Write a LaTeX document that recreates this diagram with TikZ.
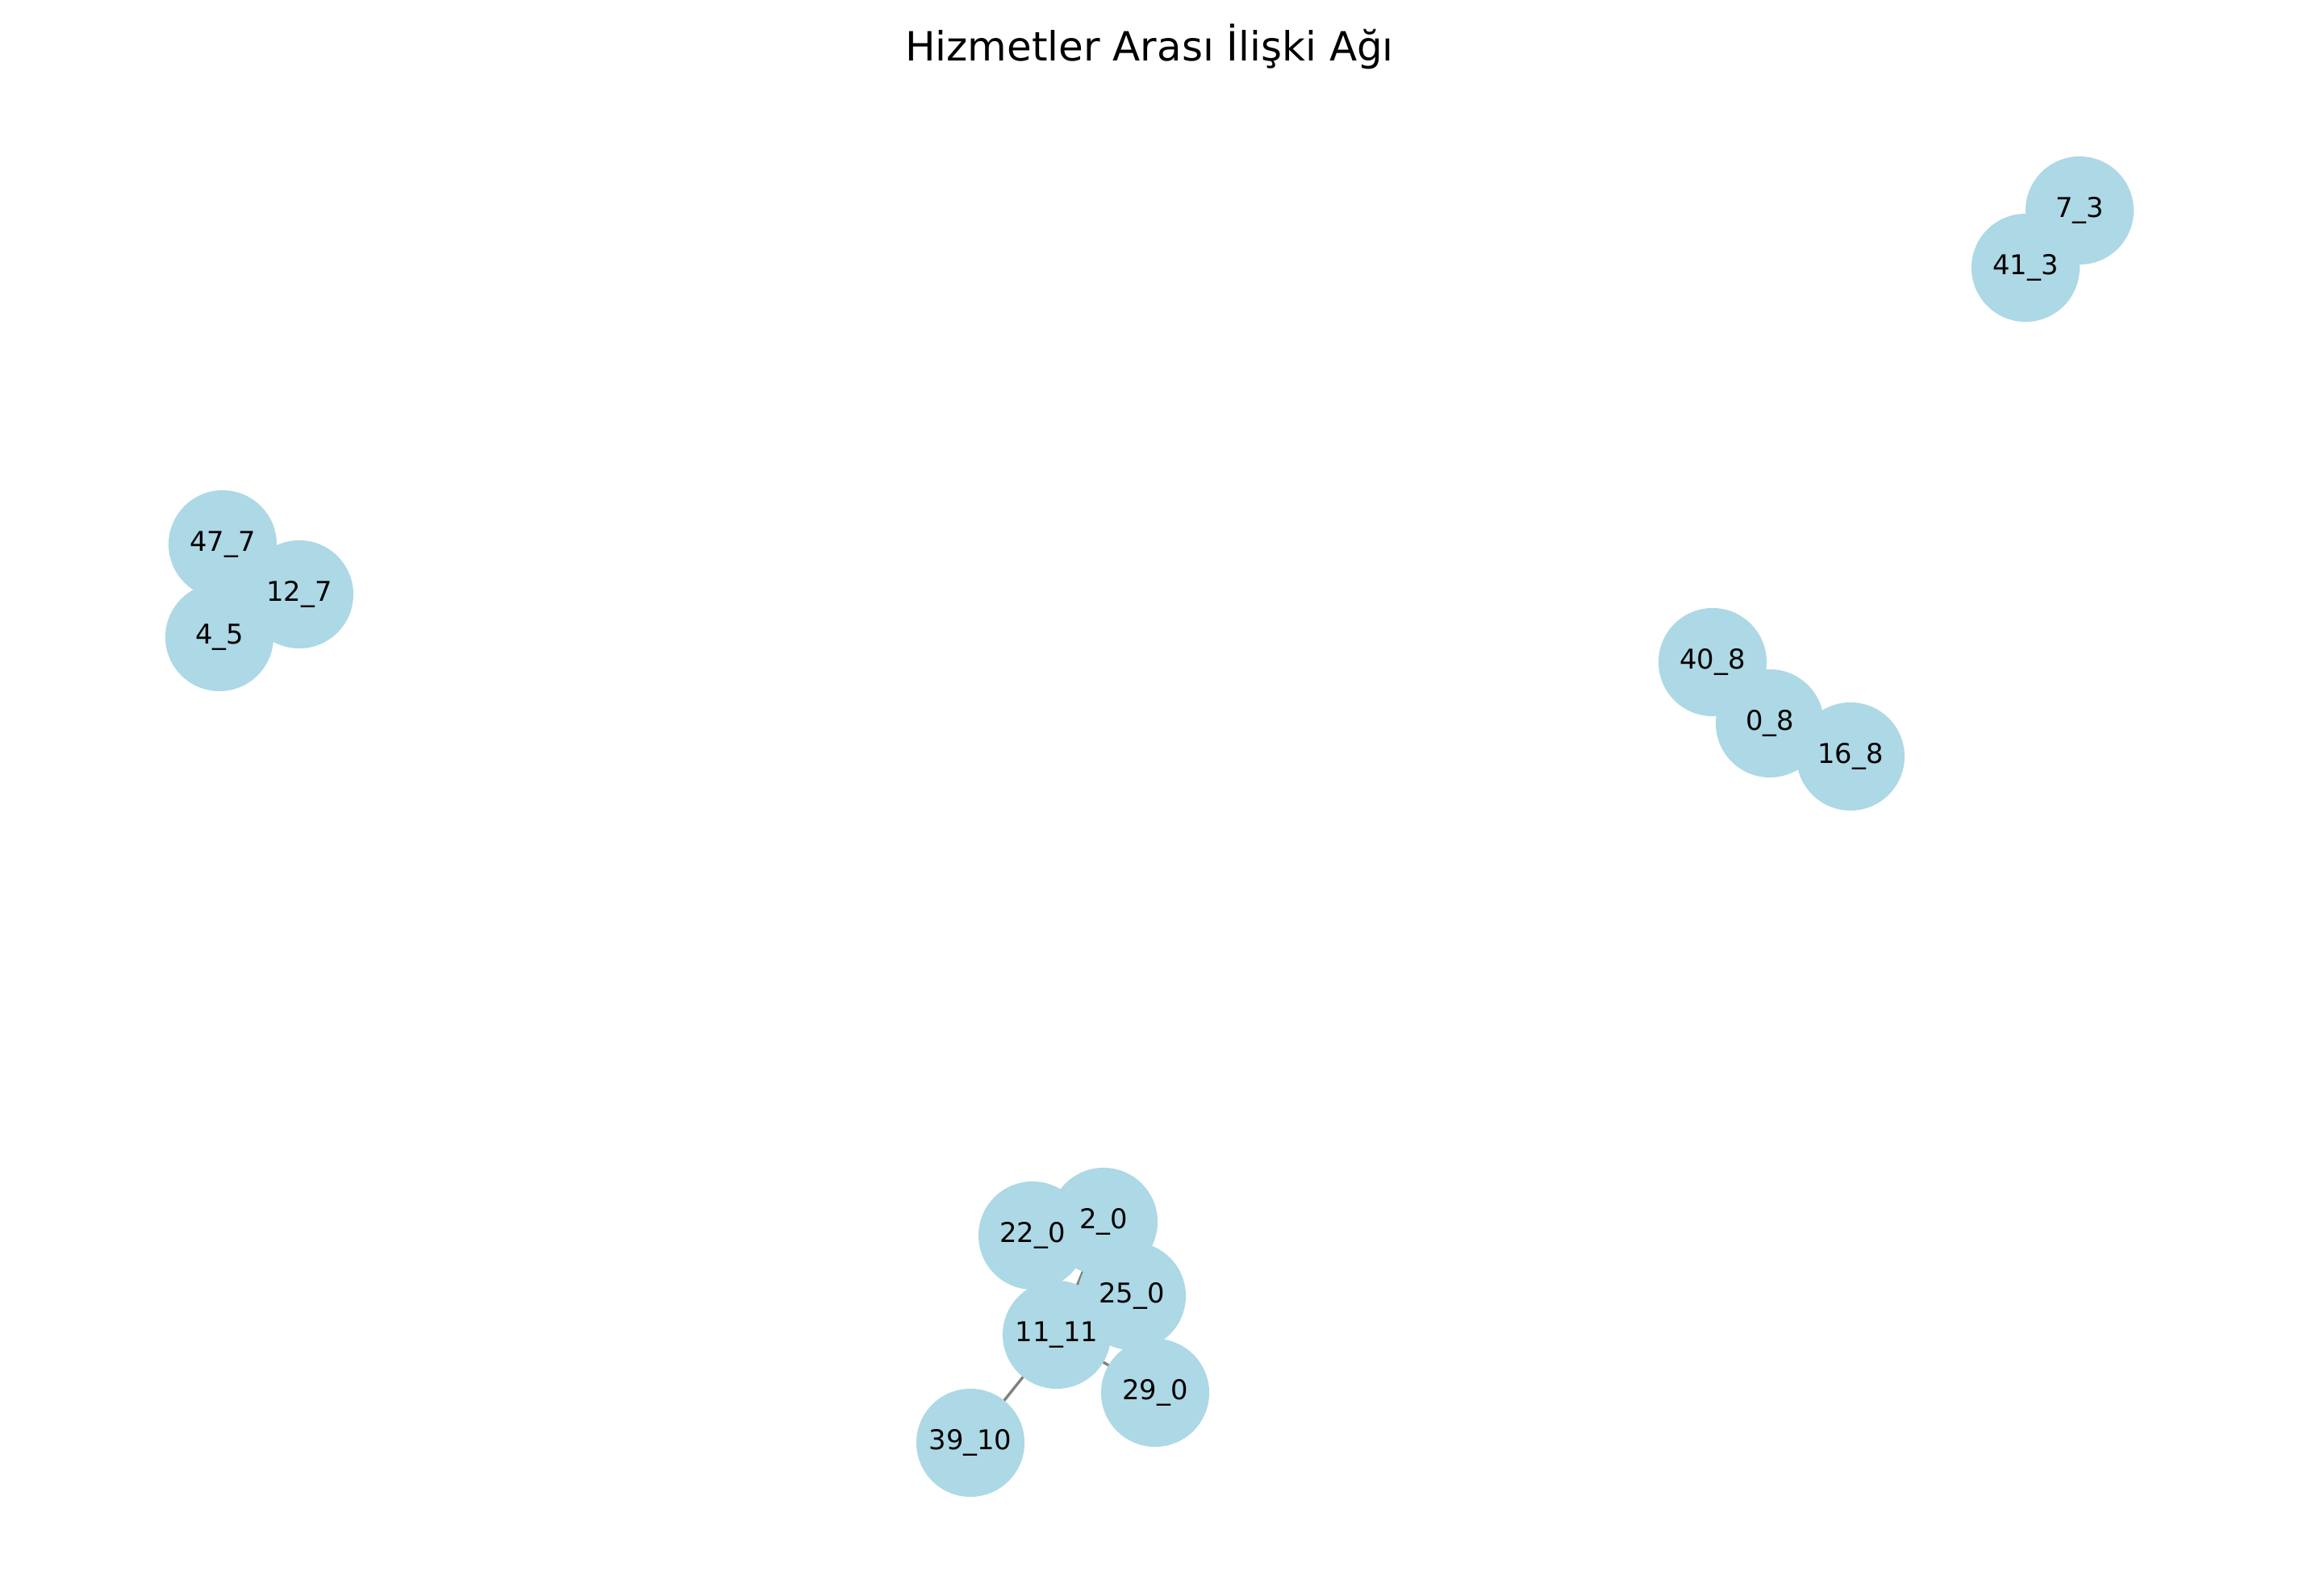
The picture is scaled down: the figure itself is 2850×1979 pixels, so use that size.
\documentclass[tikz,border=0pt]{standalone}
\usepackage{fontspec}
\setmainfont{DejaVu Sans}
\usepackage{xcolor}
\usetikzlibrary{positioning, backgrounds}

\definecolor{nodeblue}{HTML}{ADD8E6}
\definecolor{edgegray}{HTML}{808080}

\begin{document}
\begin{tikzpicture}[
    x=0.01cm, y=-0.01cm,
    service/.style={circle, fill=nodeblue, inner sep=0pt,
                    minimum size=1.34cm},
    lbl/.style={font=\fontsize{9.6}{11}\selectfont, inner sep=0pt},
    link/.style={draw=edgegray, line width=0.95pt},
]
\useasboundingbox (0,0) rectangle (2850,1979);

% Title
\node[font=\fontsize{14.2}{17}\selectfont, anchor=base] (title) at (1425,76)
    {Hizmetler Arası İlişki Ağı};

% Cluster 7
\node[service] (n47) at (276,675) {};
\node[service] (n12) at (371,737) {};
\node[service] (n4) at (272,790) {};

% Cluster 8
\node[service] (n40) at (2123,821) {};
\node[service] (n0) at (2194,897) {};
\node[service] (n16) at (2294,938) {};

% Cluster 3
\node[service] (n7) at (2578,261) {};
\node[service] (n41) at (2511,332) {};

% Cluster 0
\node[service] (n22) at (1280,1532) {};
\node[service] (n2) at (1368,1515) {};
\node[service] (n25) at (1403,1607) {};
\node[service] (n11) at (1310,1655) {};
\node[service] (n29) at (1432,1727) {};
\node[service] (n39) at (1203,1789) {};

% Links
\begin{scope}[on background layer]
\draw[link] (n11.center) -- (n2.center);
\draw[link] (n11.center) -- (n29.center);
\draw[link] (n11.center) -- (n39.center);
\end{scope}

% Labels
\foreach \n/\t in {n47/47\_7, n12/12\_7, n4/4\_5, n40/40\_8, n0/0\_8,
                   n16/16\_8, n7/7\_3, n41/41\_3, n22/22\_0, n2/2\_0,
                   n25/25\_0, n11/11\_11, n29/29\_0, n39/39\_10}
    \node[lbl] at (\n) {\t};

\end{tikzpicture}
\end{document}
